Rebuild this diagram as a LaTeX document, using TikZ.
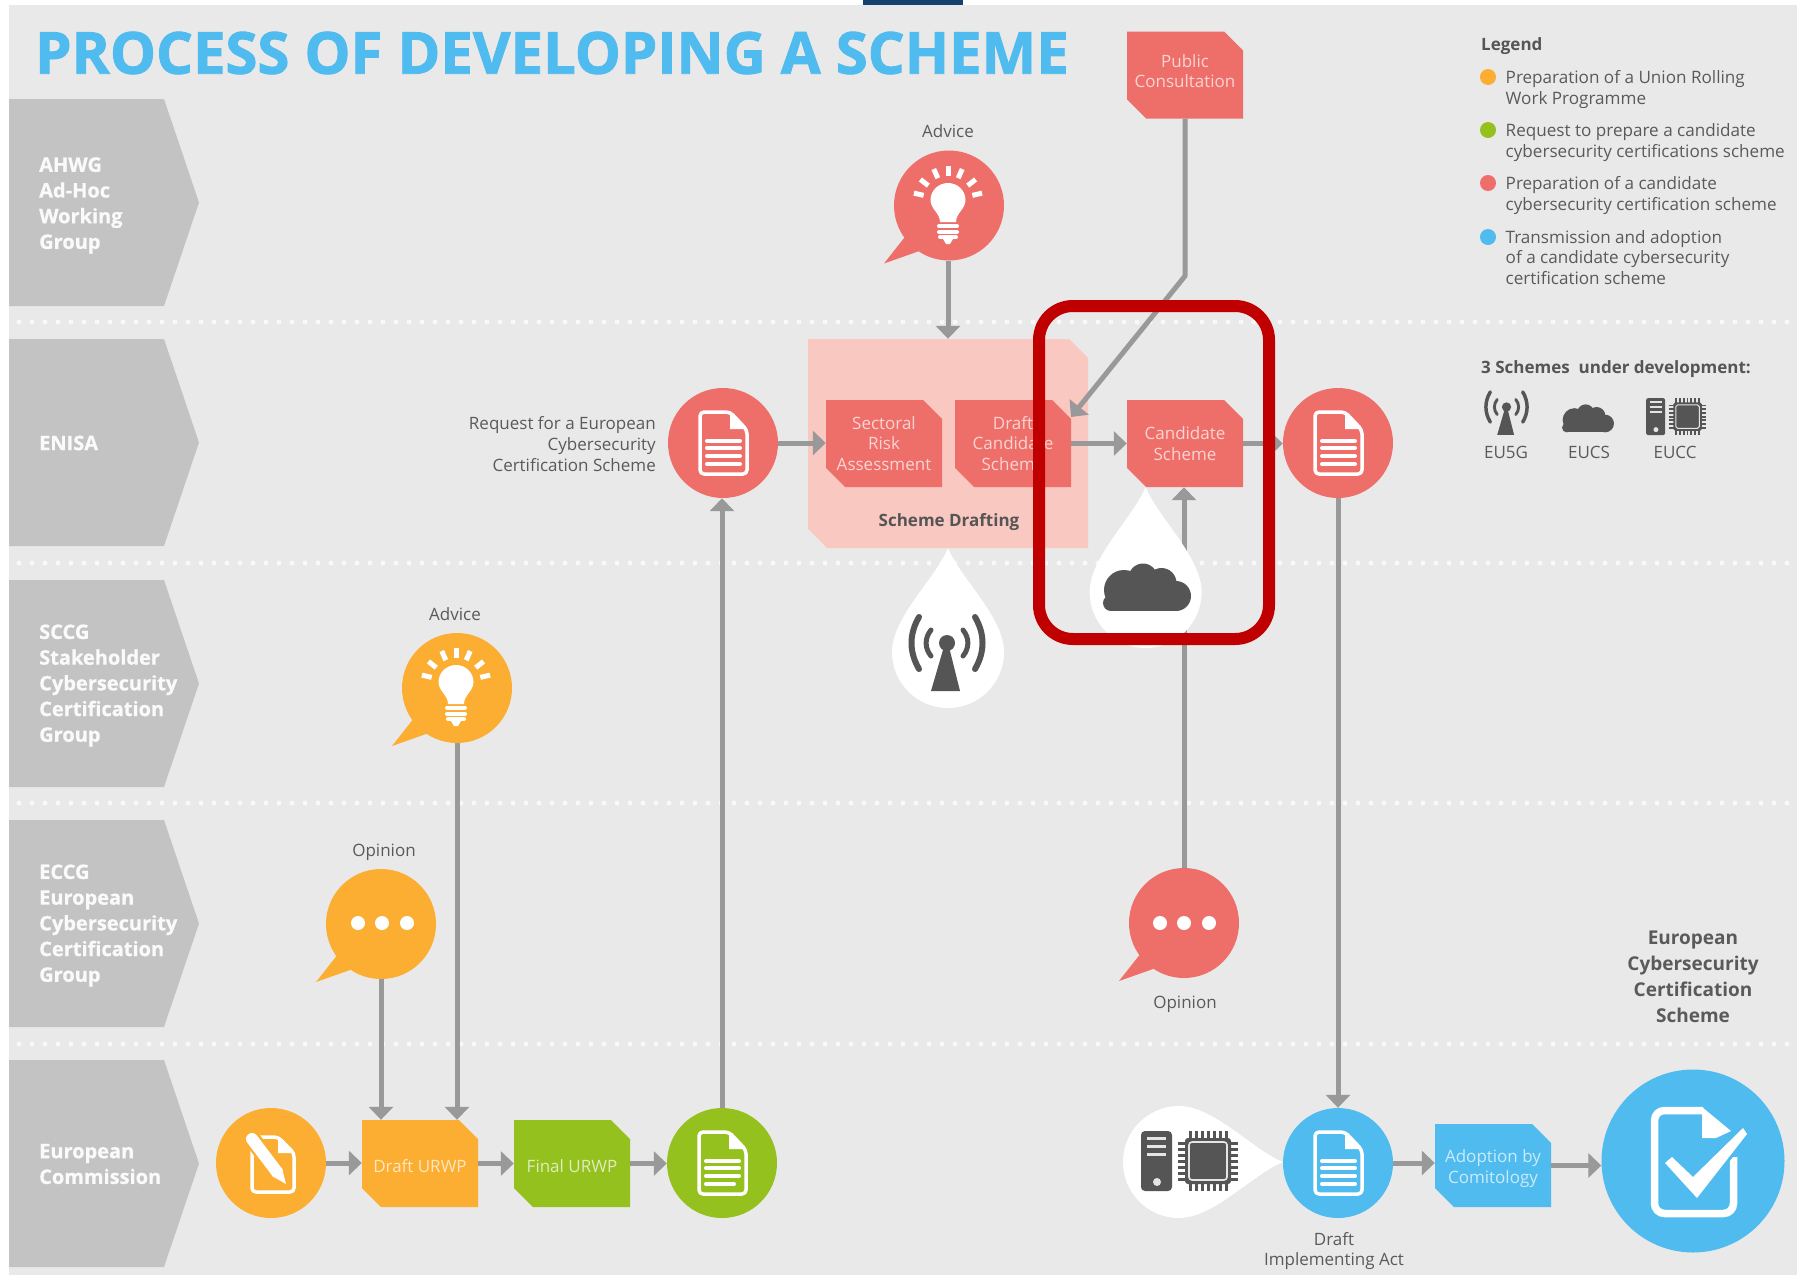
\documentclass[tikz,border=0pt]{standalone}
\usepackage{fontspec}
\setmainfont{Open Sans}
\usetikzlibrary{arrows.meta,calc}
\definecolor{bgc}{HTML}{E9E9E9}
\definecolor{lanec}{HTML}{C3C3C3}
\definecolor{salmon}{HTML}{EE6F6A}
\definecolor{pinkc}{HTML}{F9C8C1}
\definecolor{orangec}{HTML}{FBAE31}
\definecolor{greenc}{HTML}{95C11F}
\definecolor{bluec}{HTML}{4FBBEE}
\definecolor{arrowc}{HTML}{999999}
\definecolor{txtc}{HTML}{5A5A5A}
\definecolor{iconc}{HTML}{555555}
\definecolor{redc}{HTML}{C00000}
\definecolor{navyc}{HTML}{15406F}
\tikzset{
  dotline/.style={draw=white!70!bgc,line width=5pt,line cap=round,dash pattern=on 0pt off 13pt},
  lanetxt/.style={text=white!92!lanec,font=\fontsize{20}{25.7}\selectfont\bfseries\addfontfeature{FakeBold=0.8},align=left,anchor=west,inner sep=0pt},
  cutshape/.style n args={2}{rectangle,inner sep=0pt,
    path picture={\fill[#1] (path picture bounding box.north west)
      -- ([xshift=-#2pt]path picture bounding box.north east)
      -- ([yshift=-#2pt]path picture bounding box.north east)
      -- (path picture bounding box.south east)
      -- ([xshift=#2pt]path picture bounding box.south west)
      -- ([yshift=#2pt]path picture bounding box.south west) -- cycle;}},
  stepbox/.style={cutshape={#1}{19},minimum width=116pt,minimum height=87pt,align=center,
    font=\fontsize{17}{20.6}\selectfont,text=white!70!#1},
  steptxt/.style={inner sep=0pt,align=center,font=\fontsize{17}{20.6}\selectfont,text=white!70!#1},
  disc/.style={circle,minimum size=110pt,inner sep=0pt,fill=#1},
  arr/.style={draw=arrowc,line width=5pt,-{Triangle[length=13pt,width=24pt]}},
  lbl/.style={text=txtc,font=\fontsize{17}{20.6}\selectfont,align=center,inner sep=0pt},
  boldlbl/.style={text=txtc,font=\fontsize{19}{26}\selectfont\bfseries,align=center,inner sep=0pt},
  legtxt/.style={text=txtc,font=\fontsize{17.1}{20.6}\selectfont,align=left,anchor=west,inner sep=0pt},
  legdot/.style={circle,minimum size=16pt,inner sep=0pt,fill=#1},
}
\newcommand{\laneShape}[2]{\fill[lanec] (9,#1) -- (164,#1) -- (199,{(#1+#2)/2}) -- (164,#2) -- (9,#2) -- cycle;}
\newcommand{\iconDoc}[3]{%
 \begin{scope}[shift={(#1,#2)}]
  \draw[white,line width=3.5pt,rounded corners=4pt,line join=round] (-23,-31) -- (7,-31) -- (24,-13) -- (24,31) -- (-23,31) -- cycle;
  \fill[white] (7,-31) -- (7,-14) -- (24,-14) -- cycle;
  \foreach \yy/\xe in {-2/17,5/17,13/17,21/#3}{\draw[white,line width=4pt,line cap=round] (-16,\yy) -- (\xe,\yy);}
 \end{scope}}
\newcommand{\iconBulb}[2]{%
 \begin{scope}[shift={(#1,#2)}]
  \fill[white] (-8,21) .. controls (-8,12) and (-17.5,8) .. (-17.5,-1) .. controls (-17.5,-11) and (-9,-18) .. (0,-18) .. controls (9,-18) and (17.5,-11) .. (17.5,-1) .. controls (17.5,8) and (8,12) .. (8,21) -- cycle;
  \foreach \yy/\w in {25/9,31/9,36/8}{\draw[white,line width=4pt,line cap=round] (-\w,\yy) -- (\w,\yy);}
  \fill[white] (-5,38) -- (5,38) -- (2,43) -- (-2,43) -- cycle;
  \foreach \a in {13,38,66,90,114,142,167}{\draw[white,line width=5pt] ({25*cos(\a)},{-25*sin(\a)}) -- ({35*cos(\a)},{-35*sin(\a)});}
 \end{scope}}
\newcommand{\iconAntenna}[3]{%
 \begin{scope}[shift={(#1,#2)},scale=#3]
  \fill[iconc] (0,0) circle[radius=8];
  \fill[iconc] (-2,0) -- (1,0) -- (13,48) -- (-16,48) -- cycle;
  \draw[iconc,line width=#3*6pt,line cap=round] (-28,-26) .. controls (-38,-9) and (-38,9) .. (-28,26);
  \draw[iconc,line width=#3*6pt,line cap=round] (28,-26) .. controls (38,-9) and (38,9) .. (28,26);
  \draw[iconc,line width=#3*5pt,line cap=round] (-16,-13) .. controls (-22.5,-5) and (-22.5,5) .. (-16,13);
  \draw[iconc,line width=#3*5pt,line cap=round] (16,-13) .. controls (22.5,-5) and (22.5,5) .. (16,13);
 \end{scope}}
\newcommand{\iconCloud}[3]{%
 \begin{scope}[shift={(#1,#2)},scale=#3]
  \fill[iconc] (-23,2.5) circle[radius=20] (-4,-9.5) circle[radius=14.5] (14.5,-4.5) circle[radius=15] (29,8.5) circle[radius=15] (-36,15.5) circle[radius=8];
  \fill[iconc] (-36,5) rectangle (29,23.5);
  \fill[iconc] (-25,-5) rectangle (25,10);
 \end{scope}}
\newcommand{\iconChip}[3]{%
 \begin{scope}[shift={(#1,#2)},scale=#3]
  \fill[iconc,rounded corners=#3*4pt] (0,0) rectangle (31,60);
  \foreach \yy in {7,15,23}{\draw[white!85!iconc,line width=#3*3pt] (6,\yy) -- (25,\yy);}
  \fill[white!85!iconc] (16,51) circle[radius=4];
  \begin{scope}[shift={(67,30)}]
   \foreach \p in {-18,-12,-6,0,6,12,18}{
    \draw[iconc,line width=#3*3pt] (\p,-30) -- (\p,30);
    \draw[iconc,line width=#3*3pt] (-30,\p) -- (30,\p);}
   \fill[iconc,rounded corners=#3*3pt] (-23,-23) rectangle (23,23);
   \draw[white!85!iconc,line width=#3*1.6pt,rounded corners=#3*3pt] (-19,-19) rectangle (19,19);
  \end{scope}
 \end{scope}}
\newcommand{\dropShape}[1]{%
 \fill[white] (0,-#1) .. controls (12,{-#1+30}) and (56,-35) .. (56,0) .. controls (56,31) and (31,56) .. (0,56) .. controls (-31,56) and (-56,31) .. (-56,0) .. controls (-56,-35) and (-12,{-#1+30}) .. cycle;}
\begin{document}
\begin{tikzpicture}[x=1pt,y=-1pt]
\useasboundingbox (0,0) rectangle (1797,1275);
\fill[white] (0,0) rectangle (1797,1275);
\fill[bgc] (9,5) rectangle (1797,1275);
\fill[navyc] (863,0) rectangle (963,5);
% dotted lane separators
\foreach \yy in {322,563,803,1044}{\draw[dotline] (19,\yy) -- (1797,\yy);}
% lanes
\laneShape{99}{306}\laneShape{339}{546}\laneShape{580}{787}\laneShape{820}{1027}\laneShape{1060}{1267}
\node[lanetxt] (l1) at (39,205.5) {AHWG\\Ad-Hoc\\Working\\Group};
\node[lanetxt] (l2) at (39,443) {ENISA};
\node[lanetxt] (l3) at (39,685.5) {SCCG\\Stakeholder\\Cybersecurity\\Certification\\Group};
\node[lanetxt] (l4) at (39,925.5) {ECCG\\European\\Cybersecurity\\Certification\\Group};
\node[lanetxt] (l5) at (39,1164) {European\\Commission};
% title
\node[anchor=west,inner sep=0pt,text=bluec,font=\fontsize{58}{60}\selectfont\bfseries\addfontfeature{FakeBold=1.5}] (title) at (35,53) {PROCESS OF DEVELOPING A SCHEME};
% group
\node[cutshape={pinkc}{19},minimum width=280pt,minimum height=209pt] (group) at (948,443.5) {};
\node[boldlbl,font=\fontsize{17}{20}\selectfont\bfseries,text=iconc] (grouplbl) at (949,522) {Scheme Drafting};
% boxes
\node[stepbox=salmon] (pub) at (1185,75) {};
\node[steptxt=salmon] (pubT) at (1185,71) {Public\\Consultation};
\node[stepbox=salmon] (sect) at (884,443.5) {Sectoral\\Risk\\Assessment};
\node[stepbox=salmon] (dcs) at (1013,443.5) {Draft\\Candidate\\Scheme};
\node[stepbox=salmon] (cand) at (1185,443.5) {Candidate\\Scheme};
\node[stepbox=orangec] (durwp) at (420,1163.5) {};
\node[steptxt=orangec] (durwpT) at (420,1166.5) {Draft URWP};
\node[stepbox=greenc] (furwp) at (572,1163.5) {};
\node[steptxt=greenc] (furwpT) at (572,1166.5) {Final URWP};
\node[stepbox=bluec,minimum height=83pt] (adopt) at (1493,1165.5) {};
\node[steptxt=bluec] (adoptT) at (1493,1168.5) {Adoption by\\Comitology};
% discs
\node[disc=salmon] (advE) at (949,205.5) {};
\node[disc=salmon] (reqE) at (723,443) {};
\node[disc=salmon] (docE) at (1338,443) {};
\node[disc=salmon] (opE) at (1184,923) {};
\node[disc=orangec] (advS) at (457,688) {};
\node[disc=orangec] (opS) at (381,924) {};
\node[disc=orangec] (penc) at (271,1163) {};
\node[disc=greenc] (reqG) at (722,1163) {};
\node[disc=bluec] (dia) at (1338,1163) {};
\node[disc=bluec,minimum size=183pt] (final) at (1693,1161) {};
% bubble tails
\foreach \n/\c in {advE/salmon,opE/salmon,advS/orangec,opS/orangec}{
 \fill[\c] ([shift={(-44.5,32)}]\n.center) -- ([shift={(-65,58)}]\n.center) -- ([shift={(-31,46)}]\n.center) -- ([shift={(-20,20)}]\n.center) -- cycle;}
% connectors
\coordinate (pubBend) at (1185,276);
\coordinate (pubEnd) at (1071,417);
\draw[arr,line join=round] (pub.south) -- (pubBend) -- (pubEnd);
\draw[arr] (group.north |- advE.south) -- (group.north);
\draw[arr] (reqE.east) -- (reqE.east -| sect.west);
\draw[arr] (dcs.east) -- (cand.west);
\draw[arr] (cand.east) -- (cand.east -| docE.west);
\draw[arr] (opE.north) -- (opE.north |- cand.south);
\draw[arr] (docE.south) -- (dia.north);
\draw[arr] (reqG.north) -- (reqG.north |- reqE.south);
\draw[arr] (opS.south) -- (opS.south |- durwp.north);
\draw[arr] (advS.south) -- (advS.south |- durwp.north);
\draw[arr] (penc.east) -- (penc.east -| durwp.west);
\draw[arr] (durwp.east) -- (furwp.west);
\draw[arr] (furwp.east) -- (furwp.east -| reqG.west);
\draw[arr] (dia.east) -- (dia.east -| adopt.west);
\draw[arr] (adopt.east) -- (adopt.east -| final.west);
% drops
\begin{scope}[shift={(1145.6,592)}]\dropShape{105}\end{scope}
\begin{scope}[shift={(948,652)}]\dropShape{104}\end{scope}
\begin{scope}[shift={(1179,1162)},rotate=-90]\dropShape{104}\end{scope}
\iconCloud{1147}{587.5}{1}
\iconAntenna{947}{643}{1}
\iconChip{1141}{1131}{1}
% disc icons
\iconBulb{948}{201}
\iconBulb{456}{683}
\iconDoc{723}{443}{17}
\iconDoc{1338}{443}{17}
\iconDoc{722}{1163}{12}
\iconDoc{1338}{1163}{17}
\foreach \xx in {-24,0,25}{\fill[white] (382+\xx,923) circle[radius=7]; \fill[white] (1184+\xx,923) circle[radius=7];}
% pencil document
\draw[white,line width=3.5pt,rounded corners=4pt,line join=round] (252,1137) -- (278,1137) -- (294,1153) -- (294,1192) -- (252,1192) -- cycle;
\fill[white] (278,1137) -- (278,1153) -- (294,1153) -- cycle;
\draw[orangec,line width=17pt] (250,1136) -- (280,1176);
\draw[white,line width=12pt,line cap=round] (252,1139) -- (277,1172);
\fill[white] (272,1176) -- (282,1168) -- (286,1184) -- cycle;
% big document with check
\draw[white,line width=7.5pt,rounded corners=10pt] (1733.5,1157) -- (1733.5,1213.5) -- (1654.5,1213.5) -- (1654.5,1110.5) -- (1703,1110.5);
\fill[white] (1702,1107) -- (1731,1131) -- (1716,1138) -- (1702,1138) -- cycle;
\fill[bluec,draw=bluec,line width=6pt] (1665,1163) -- (1672,1157) -- (1693,1177) -- (1743,1128) -- (1747,1134) -- (1697,1198) -- cycle;
\fill[white] (1665,1163) -- (1672,1157) -- (1693,1177) -- (1743,1128) -- (1747,1134) -- (1697,1198) -- cycle;
% labels
\node[lbl] (t1) at (948,131.5) {Advice};
\node[lbl] (t2) at (455,614) {Advice};
\node[lbl] (t3) at (384,852) {Opinion};
\node[lbl] (t4) at (1185,1004) {Opinion};
\node[lbl,align=right,anchor=east] (t5) at (656,444) {Request for a European\\Cybersecurity\\Certification Scheme};
\node[lbl] (t6) at (1334,1251) {Draft\\Implementing Act};
\node[boldlbl] (t7) at (1693,977) {European\\Cybersecurity\\Certification\\Scheme};
% legend
\node[anchor=west,inner sep=0pt,text=iconc,font=\fontsize{17}{20}\selectfont\bfseries] (lg) at (1481,46) {Legend};
\node[legdot=orangec] (d1) at (1488,77) {};
\node[legdot=greenc] (d2) at (1488,130) {};
\node[legdot=salmon] (d3) at (1488,183) {};
\node[legdot=bluec] (d4) at (1488,237) {};
\node[legtxt] (g1) at (1505.5,89.5) {Preparation of a Union Rolling\\Work Programme};
\node[legtxt] (g2) at (1505.5,142.5) {Request to prepare a candidate\\cybersecurity certifications scheme};
\node[legtxt] (g3) at (1505.5,195.5) {Preparation of a candidate\\cybersecurity certification scheme};
\node[legtxt] (g4) at (1505.5,257.5) {Transmission and adoption\\of a candidate cybersecurity\\certification scheme};
\node[anchor=west,inner sep=0pt,text=iconc,font=\fontsize{17}{20}\selectfont\bfseries] (sch) at (1481,369) {3 Schemes\ \ under development:};
\iconAntenna{1506.5}{407}{0.58}
\iconCloud{1588}{418.5}{0.59}
\iconChip{1646}{398}{0.62}
\node[lbl] (e1) at (1506,452) {EU5G};
\node[lbl] (e2) at (1589,452) {EUCS};
\node[lbl] (e3) at (1675,452) {EUCC};
% highlight
\draw[redc,line width=12pt,rounded corners=34pt] (1039,306) rectangle (1269,639);
\end{tikzpicture}
\end{document}
